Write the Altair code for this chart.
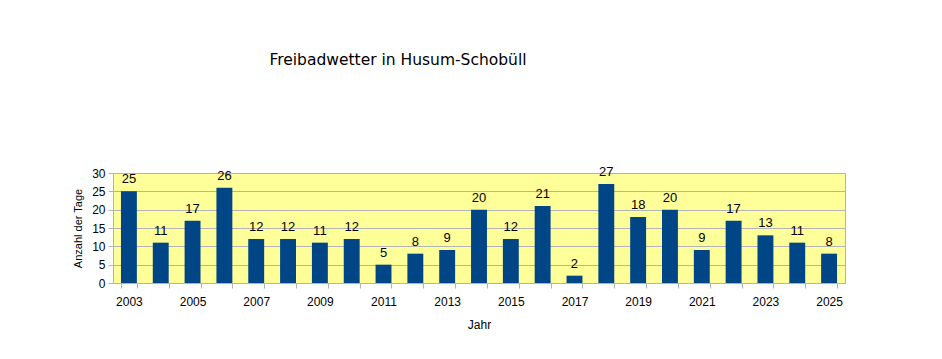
import altair as alt
import pandas as pd

years = [str(y) for y in range(2003, 2026)]
days = [25, 11, 17, 26, 12, 12, 11, 12, 5, 8, 9, 20, 12, 21, 2, 27, 18, 20, 9, 17, 13, 11, 8]

df = pd.DataFrame({"Jahr": years, "Tage": days})

x = alt.X(
    "Jahr:N",
    sort=years,
    scale=alt.Scale(paddingInner=0.5, paddingOuter=0.25),
    axis=alt.Axis(
        title="Jahr",
        labelAngle=0,
        labelExpr="(toNumber(datum.value) % 2 == 1) ? datum.value : ''",
        labelOverlap=False,
        tickBand="extent",
        tickSize=5,
        tickColor="#b3b3b3",
        domainColor="#b3b3b3",
        labelFont="Liberation Sans",
        labelFontSize=12,
        labelColor="#000000",
        labelPadding=8,
        titleFont="Liberation Sans",
        titleFontSize=12,
        titleFontWeight="normal",
        titleColor="#000000",
        titlePadding=12,
        grid=False,
    ),
)

y = alt.Y(
    "Tage:Q",
    scale=alt.Scale(domain=[0, 30], nice=False),
    axis=alt.Axis(
        title="Anzahl der Tage",
        values=[0, 5, 10, 15, 20, 25, 30],
        labelOverlap=False,
        grid=True,
        tickSize=5,
        tickColor="#b3b3b3",
        domainColor="#b3b3b3",
        gridColor="#b3b3b3",
        labelFont="Liberation Sans",
        labelFontSize=12,
        labelColor="#000000",
        labelPadding=3,
        titleFont="Liberation Sans",
        titleFontSize=11,
        titleFontWeight="normal",
        titleColor="#000000",
        titlePadding=8,
    ),
)

base = alt.Chart(df).encode(x=x, y=y)
bars = base.mark_bar(color="#004586")
labels = base.mark_text(
    baseline="bottom", dy=-5, font="Liberation Sans", fontSize=13, color="#000000"
).encode(text="Tage:Q")

chart = (
    alt.layer(bars, labels)
    .properties(
        width=732,
        height=110,
        autosize=alt.AutoSizeParams(type="none"),
        padding={"left": 105, "top": 165, "right": 10, "bottom": 60},
        title=alt.TitleParams(
            "Freibadwetter in Husum-Schobüll",
            font="DejaVu Sans",
            fontSize=15.5,
            fontWeight="normal",
            color="#000000",
            anchor="middle",
            dx=-81,
            offset=98,
        ),
        background="#ffffff",
    )
    .configure_view(fill="#ffff99", stroke="#b3b3b3")
)

chart.save("out.html", embed_options={"renderer": "svg", "actions": False})
